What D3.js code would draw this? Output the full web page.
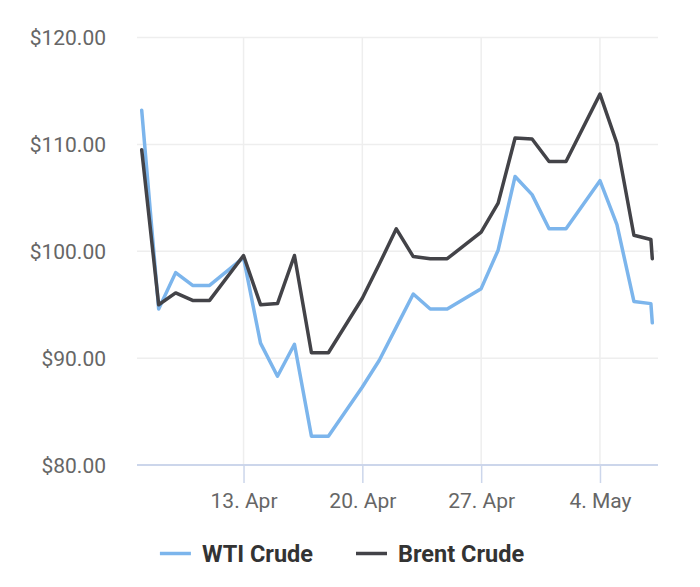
<!DOCTYPE html>
<html>
<head>
<meta charset="utf-8">
<script src="https://cdn.jsdelivr.net/npm/d3@7"></script>
<style>
  body { margin: 0; background: #fff; }
  svg { display: block; font-family: Roboto, "Noto Sans", sans-serif; }
</style>
</head>
<body>
<svg id="chart" width="700" height="587"></svg>
<script>
// trading days (Saturday repeats Friday, Sunday missing; last day has a late update)
const dates = [
  "2020-04-07 00:00", "2020-04-08 00:00", "2020-04-09 00:00", "2020-04-10 00:00", "2020-04-11 00:00",
  "2020-04-13 00:00", "2020-04-14 00:00", "2020-04-15 00:00", "2020-04-16 00:00", "2020-04-17 00:00", "2020-04-18 00:00",
  "2020-04-20 00:00", "2020-04-21 00:00", "2020-04-22 00:00", "2020-04-23 00:00", "2020-04-24 00:00", "2020-04-25 00:00",
  "2020-04-27 00:00", "2020-04-28 00:00", "2020-04-29 00:00", "2020-04-30 00:00", "2020-05-01 00:00", "2020-05-02 00:00",
  "2020-05-04 00:00", "2020-05-05 00:00", "2020-05-06 00:00", "2020-05-07 00:00", "2020-05-07 02:00"
];
const wti = [
  113.2, 94.6, 98.0, 96.8, 96.8,
  99.4, 91.4, 88.3, 91.3, 82.7, 82.7,
  87.3, 89.8, 92.9, 96.0, 94.6, 94.6,
  96.5, 100.1, 107.0, 105.3, 102.1, 102.1,
  106.6, 102.5, 95.3, 95.1, 93.3
];
const brent = [
  109.5, 95.0, 96.1, 95.4, 95.4,
  99.6, 95.0, 95.1, 99.6, 90.5, 90.5,
  95.6, 98.8, 102.1, 99.5, 99.3, 99.3,
  101.8, 104.5, 110.6, 110.5, 108.4, 108.4,
  114.7, 110.1, 101.5, 101.1, 99.3
];
const seriesNames = ["WTI Crude", "Brent Crude"];
const seriesColors = ["#7cb5ec", "#434348"];
const yTicks = [80, 90, 100, 110, 120];

const parse = d3.timeParse("%Y-%m-%d %H:%M");
const days = dates.map(parse);
const series = [wti, brent].map((vals, i) => ({
  name: seriesNames[i],
  color: seriesColors[i],
  points: vals.map((v, j) => ({ date: days[j], value: v }))
}));

const svg = d3.select("#chart");
const plotLeft = 137, plotRight = 658;

const x = d3.scaleTime()
  .domain(d3.extent(days))
  .range([141.7, 652.3]);

const y = d3.scaleLinear()
  .domain([80, 120])
  .range([465, 37.5]);

const xTicks = x.ticks(d3.timeMonday.every(1));
const fmtDate = d3.timeFormat("%-d. %b");
const fmtPrice = v => "$" + d3.format(".2f")(v);

// grid
svg.append("g")
  .selectAll("line")
  .data(yTicks.filter(t => t > 80))
  .join("line")
  .attr("x1", plotLeft).attr("x2", plotRight)
  .attr("y1", d => y(d)).attr("y2", d => y(d))
  .attr("stroke", "#eeeeee")
  .attr("stroke-width", 1.5);

svg.append("g")
  .selectAll("line")
  .data(xTicks)
  .join("line")
  .attr("x1", d => x(d)).attr("x2", d => x(d))
  .attr("y1", y(120)).attr("y2", y(80))
  .attr("stroke", "#eeeeee")
  .attr("stroke-width", 1.5);

// y labels
svg.append("g")
  .selectAll("text")
  .data(yTicks)
  .join("text")
  .attr("x", 106)
  .attr("y", d => y(d))
  .attr("dy", "0.36em")
  .attr("text-anchor", "end")
  .attr("fill", "#666666")
  .attr("font-size", 21)
  .text(fmtPrice);

// x axis
const xAxis = d3.axisBottom(x)
  .tickValues(xTicks)
  .tickFormat(fmtDate)
  .tickSizeInner(18)
  .tickSizeOuter(0)
  .tickPadding(10);

const gx = svg.append("g")
  .attr("transform", `translate(0,${y(80)})`)
  .call(xAxis);
gx.select(".domain")
  .attr("d", `M${plotLeft},0H${plotRight}`)
  .attr("stroke", "#ccd6eb")
  .attr("stroke-width", 2);
gx.selectAll(".tick line")
  .attr("stroke", "#ccd6eb")
  .attr("stroke-width", 1.5);
gx.selectAll(".tick text")
  .attr("fill", "#666666")
  .attr("font-size", 21)
  .attr("font-family", "Roboto, sans-serif");

// lines
const line = d3.line()
  .x(d => x(d.date))
  .y(d => y(d.value));

svg.append("g")
  .selectAll("path")
  .data(series)
  .join("path")
  .attr("d", d => line(d.points))
  .attr("fill", "none")
  .attr("stroke", d => d.color)
  .attr("stroke-width", 3.5)
  .attr("stroke-linejoin", "round")
  .attr("stroke-linecap", "round");

// legend
const symbolW = 31, textGap = 11, itemGap = 43;
const legend = svg.append("g");
const items = legend.selectAll("g")
  .data(series)
  .join("g");
items.append("line")
  .attr("x1", 0).attr("x2", symbolW)
  .attr("y1", 0).attr("y2", 0)
  .attr("stroke", d => d.color)
  .attr("stroke-width", 3.5);
items.append("text")
  .attr("x", symbolW + textGap)
  .attr("dy", "0.36em")
  .attr("font-size", 23.5)
  .attr("font-weight", "bold")
  .attr("fill", "#333333")
  .text(d => d.name);

let offset = 0;
items.each(function() {
  const w = this.querySelector("text").getComputedTextLength() + symbolW + textGap;
  d3.select(this).attr("transform", `translate(${offset},0)`);
  offset += w + itemGap;
});
const legendWidth = offset - itemGap;
legend.attr("transform", `translate(${342 - legendWidth / 2},553.5)`);
</script>
</body>
</html>
